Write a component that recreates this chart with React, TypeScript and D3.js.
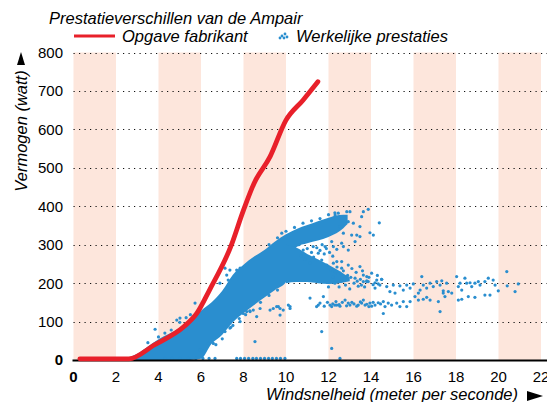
import React, { useEffect, useRef } from 'react';
import * as d3 from 'd3';

const xTicks = [0, 2, 4, 6, 8, 10, 12, 14, 16, 18, 20, 22];
const yTicks = [0, 100, 200, 300, 400, 500, 600, 700, 800];
const shadedBandStarts = [0, 4, 8, 12, 16, 20];

// manufacturer power curve (Opgave fabrikant)
const curveWind = [0.3, 2.6, 3.8, 5.2, 5.8, 6.4, 7.4, 8.0, 8.5, 9.25, 10.0, 10.8, 11.5];
const curvePower = [3, 3, 39, 87, 121, 182, 295, 390, 460, 529, 624, 676, 724];

// dense cloud of measurements (Werkelijke prestaties), main band + upper arm
const bandWind = [2.4, 3.0, 3.5, 4.0, 4.5, 5.0, 5.5, 6.0, 6.5, 7.0, 7.5, 8.0, 8.5, 9.0, 9.5, 10.0, 10.5, 11.0, 11.5, 12.0, 12.5, 12.9];
const bandLow = [0, 0, 0, 0, 0, 0, 0, 3, 42, 66, 98, 122, 143, 163, 183, 203, 294, 304, 311, 320, 334, 354];
const bandHigh = [3, 16, 35, 54, 68, 84, 104, 128, 150, 180, 222, 248, 269, 287, 309, 327, 341, 351, 361, 370, 377, 378];

// lower arm of the cloud
const forkWind = [10.0, 10.5, 11.0, 11.5, 12.0, 12.5, 13.0];
const forkLow = [200, 203, 203, 200, 198, 200, 205];
const forkHigh = [300, 292, 276, 262, 248, 232, 214];

// loose measurements
const dotWind = [
  12.31, 12.46, 12.86, 13.01, 12.93, 13.17, 13.56, 13.64, 13.87, 13.95, 14.11, 14.39, 12.7, 13.09, 13.33, 13.25, 12.23, 12.39, 12.62, 13.48,
  12.23, 12.62, 12.93, 12.31, 12.54, 12.86, 13.25, 13.64, 13.8, 14.03, 14.27, 14.5, 14.42, 14.19, 13.87,
  10.81, 11.28, 11.52, 11.68, 11.13, 11.92, 12.39, 12.62, 13.48, 13.8, 13.48, 12.54, 12.7, 12.93, 12.15, 11.84,
  13.64, 13.8, 14.19, 14.34, 14.5, 14.74, 14.89, 15.05, 15.13, 15.36, 15.52, 15.68, 15.84, 15.99, 16.23, 16.31, 16.39, 16.46, 16.62, 16.78,
  16.93, 17.09, 17.25, 17.33, 17.4, 17.56, 17.64, 18.03, 18.11, 18.19, 18.27, 18.42, 18.5, 18.66, 18.74, 18.89, 19.05, 19.13, 19.36, 19.52,
  19.75, 19.84, 19.99, 20.39, 20.41, 20.78, 20.93,
  13.56, 13.72, 13.95, 14.19, 14.34, 14.58, 14.66, 14.81, 14.97, 15.21, 15.36, 15.52, 15.68, 15.84, 16.07, 16.23, 16.46, 16.62, 16.78, 17.17,
  17.25, 17.4, 17.48, 17.8, 18.11, 18.27, 18.58, 18.89, 19.36, 19.6, 14.58, 12.15, 12.54, 12.78, 13.01, 13.33, 14.03, 12.93, 13.64, 12.3,
  7.99, 8.31, 8.62, 8.78, 9.25, 9.4, 9.56, 9.64, 9.72, 10.11, 10.19, 11.13, 11.52, 11.68, 12.07, 12.39, 12.15, 12.54, 8.54, 6.58, 6.34,
  5.95, 6.03, 3.84, 7.21, 7.28, 7.13, 7.36, 8.15,
  4.31, 4.64, 5.01, 5.39, 5.76, 6.09, 6.38, 6.66, 7.68, 7.86, 8.05, 8.24, 8.44, 8.61, 8.8, 8.99, 9.18, 9.36, 9.55, 9.74, 9.95,
  4.86, 5.01, 5.72, 6.89, 7.68, 7.84, 8.15, 7.13, 7.36, 7.84, 8.46, 9.87, 10.19, 11.44, 11.76, 9.72,
  12.1, 12.2, 12.3, 12.4, 12.5, 12.6, 12.7, 12.8, 12.9, 13.0, 13.1, 13.2, 13.3, 13.4, 13.5, 13.6, 13.7, 13.9, 14.1, 14.3,
  12.0, 12.45, 12.75, 13.05, 13.35, 13.55,
  11.6, 11.8, 11.95, 12.2, 12.35, 12.5, 12.65, 12.85, 13.1, 13.2, 13.4, 13.5, 13.8, 13.9, 14.1, 14.45,
  10.7, 10.9, 11.0, 11.2, 11.3, 11.45, 11.6, 11.8, 11.9, 12.05, 11.7, 12.2, 10.6,
  9.2, 9.6, 10.0, 10.4, 10.8, 11.2, 11.6, 12.0, 12.3, 9.8,
  7.0, 7.4, 7.8, 8.3, 8.8, 9.2, 9.6, 7.5, 8.1, 6.7,
  4.3, 4.6, 5.0, 5.3, 5.5, 3.5, 4.0,
];
const dotPower = [
  377, 382, 386, 386, 360, 356, 373, 386, 392, 331, 325, 357, 330, 325, 325, 308, 295, 288, 304, 347,
  252, 256, 247, 230, 226, 217, 213, 221, 204, 226, 208, 210, 195, 187, 204,
  286, 295, 278, 260, 252, 247, 256, 239, 243, 217, 321, 347, 295, 286, 308, 295,
  204, 206, 201, 198, 210, 191, 178, 195, 174, 193, 182, 195, 187, 198, 174, 182, 217, 195, 187, 200,
  191, 204, 195, 206, 180, 200, 178, 217, 191, 200, 182, 213, 200, 201, 191, 200, 204, 195, 204, 213,
  208, 195, 180, 230, 193, 178, 198,
  148, 143, 148, 143, 149, 152, 139, 148, 143, 148, 139, 152, 139, 152, 165, 156, 158, 163, 156, 152,
  126, 174, 165, 174, 156, 158, 165, 163, 169, 169, 121, 139, 140, 156, 143, 140, 140, 148, 156, 143,
  121, 126, 113, 134, 130, 134, 139, 139, 134, 143, 139, 161, 143, 74, 143, 143, 30, 4, 48, 43, 43,
  26, 26, 80, 221, 208, 239, 234, 126,
  4, 4, 4, 4, 4, 4, 4, 4, 4, 4, 4, 4, 4, 4, 4, 4, 4, 4, 4, 4, 4,
  104, 109, 148, 200, 234, 239, 247, 74, 83, 100, 130, 130, 134, 139, 165, 117,
  235, 215, 200, 242, 190, 205, 232, 195, 220, 185, 238, 200, 228, 192, 210, 232, 190, 215, 196, 220,
  190, 225, 210, 215, 205, 195,
  148, 140, 150, 146, 152, 144, 150, 141, 150, 146, 143, 151, 145, 139, 150, 146,
  270, 262, 290, 280, 268, 292, 285, 276, 290, 280, 300, 270, 300,
  300, 318, 335, 345, 356, 362, 368, 378, 383, 330,
  55, 85, 108, 128, 150, 168, 182, 90, 118, 40,
  70, 78, 98, 110, 118, 45, 60,
];

const RED = '#e8202a';
const BLUE = '#2a8ecf';
const PEACH = '#fde6dc';
const FONT = '"Liberation Sans", Arial, sans-serif';

const App: React.FC = () => {
  const svgRef = useRef<SVGSVGElement>(null);

  useEffect(() => {
    if (!svgRef.current) return;
    const svg = d3.select(svgRef.current);
    svg.selectAll('*').remove();

    const x = d3.scaleLinear().domain([0, 22]).range([73.5, 541]);
    const y = d3.scaleLinear().domain([0, 800]).range([360, 52.5]);

    // shaded columns
    svg.append('g')
      .selectAll('rect')
      .data(shadedBandStarts)
      .enter()
      .append('rect')
      .attr('x', d => x(d))
      .attr('y', y(800))
      .attr('width', d => x(d + 2) - x(d))
      .attr('height', y(0) - y(800))
      .attr('fill', PEACH);

    // dotted gridlines
    svg.append('g')
      .selectAll('line')
      .data(yTicks.filter(d => d > 0))
      .enter()
      .append('line')
      .attr('x1', x(0))
      .attr('x2', 547)
      .attr('y1', d => Math.round(y(d)) + 0.5)
      .attr('y2', d => Math.round(y(d)) + 0.5)
      .attr('stroke', '#111')
      .attr('stroke-width', 1.2)
      .attr('stroke-dasharray', '1.2,4.3');

    // measurement cloud
    const band = d3.range(bandWind.length).map(i => ({ w: bandWind[i], lo: bandLow[i], hi: bandHigh[i] }));
    const fork = d3.range(forkWind.length).map(i => ({ w: forkWind[i], lo: forkLow[i], hi: forkHigh[i] }));
    const area = d3.area<{ w: number; lo: number; hi: number }>()
      .x(d => x(d.w))
      .y0(d => y(d.lo))
      .y1(d => y(d.hi))
      .curve(d3.curveMonotoneX);

    svg.append('path').datum(band).attr('d', area).attr('fill', BLUE);
    svg.append('path').datum(fork).attr('d', area).attr('fill', BLUE);

    svg.append('g')
      .selectAll('circle')
      .data(d3.range(dotWind.length))
      .enter()
      .append('circle')
      .attr('cx', i => x(dotWind[i]))
      .attr('cy', i => y(dotPower[i]))
      .attr('r', 1.6)
      .attr('fill', BLUE);

    // baseline
    svg.append('line')
      .attr('x1', x(0) - 1)
      .attr('x2', 547)
      .attr('y1', y(0) + 0.5)
      .attr('y2', y(0) + 0.5)
      .attr('stroke', '#000')
      .attr('stroke-width', 2);

    // manufacturer curve
    const line = d3.line<number>()
      .x(i => x(curveWind[i]))
      .y(i => y(curvePower[i]))
      .curve(d3.curveMonotoneX);

    svg.append('path')
      .datum(d3.range(curveWind.length))
      .attr('d', line)
      .attr('fill', 'none')
      .attr('stroke', RED)
      .attr('stroke-width', 4.8)
      .attr('stroke-linecap', 'round')
      .attr('stroke-linejoin', 'round');

    // y tick labels
    svg.append('g')
      .selectAll('text')
      .data(yTicks)
      .enter()
      .append('text')
      .attr('x', 63)
      .attr('y', d => y(d))
      .attr('dy', '0.36em')
      .attr('text-anchor', 'end')
      .style('font-family', FONT)
      .style('font-size', '15px')
      .style('font-weight', d => (d === 0 ? 'bold' : 'normal'))
      .text(d => d);

    // x tick labels
    svg.append('g')
      .selectAll('text')
      .data(xTicks)
      .enter()
      .append('text')
      .attr('x', d => x(d))
      .attr('y', 382)
      .attr('text-anchor', 'middle')
      .style('font-family', FONT)
      .style('font-size', '15px')
      .style('font-weight', d => (d === 0 ? 'bold' : 'normal'))
      .text(d => d);

    // axis titles
    svg.append('text')
      .attr('transform', `translate(27, ${131}) rotate(-90)`)
      .attr('text-anchor', 'middle')
      .style('font-family', FONT)
      .style('font-size', '16.5px')
      .style('font-style', 'italic')
      .text('Vermogen (watt)');

    svg.append('path')
      .attr('d', 'M17,65 L21,52 L25,65 Z')
      .attr('fill', '#000');

    svg.append('text')
      .attr('x', 518)
      .attr('y', 400)
      .attr('text-anchor', 'end')
      .style('font-family', FONT)
      .style('font-size', '16.5px')
      .style('font-style', 'italic')
      .text('Windsnelheid (meter per seconde)');

    svg.append('path')
      .attr('d', 'M527,391 L543,396 L527,401 Z')
      .attr('fill', '#000');

    // title
    svg.append('text')
      .attr('x', 49)
      .attr('y', 24)
      .style('font-family', FONT)
      .style('font-size', '16.5px')
      .style('font-style', 'italic')
      .text('Prestatieverschillen van de Ampair');

    // legend
    svg.append('line')
      .attr('x1', 74)
      .attr('x2', 115)
      .attr('y1', 36)
      .attr('y2', 36)
      .attr('stroke', RED)
      .attr('stroke-width', 3);

    svg.append('text')
      .attr('x', 122)
      .attr('y', 42)
      .style('font-family', FONT)
      .style('font-size', '16.5px')
      .style('font-style', 'italic')
      .text('Opgave fabrikant');

    const legendDots = [[0, 0], [3, -2], [2, 2], [5, 1], [-2, 2]];
    svg.append('g')
      .selectAll('circle')
      .data(legendDots)
      .enter()
      .append('circle')
      .attr('cx', d => 282 + d[0])
      .attr('cy', d => 36 + d[1])
      .attr('r', 1.4)
      .attr('fill', BLUE);

    svg.append('text')
      .attr('x', 296)
      .attr('y', 42)
      .style('font-family', FONT)
      .style('font-size', '16.5px')
      .style('font-style', 'italic')
      .text('Werkelijke prestaties');
  }, []);

  return (
    <svg
      ref={svgRef}
      width={547}
      height={402}
      style={{ position: 'absolute', left: 0, top: 0, background: '#fff' }}
    />
  );
};

export default App;
